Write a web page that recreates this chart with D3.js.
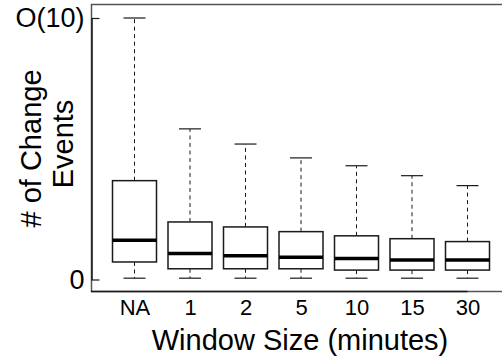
<!DOCTYPE html>
<html>
<head>
<meta charset="utf-8">
<script src="https://cdn.jsdelivr.net/npm/d3@7"></script>
<style>
  html, body { margin: 0; padding: 0; background: #fff; }
  svg { display: block; font-family: "Liberation Sans", Arial, Helvetica, sans-serif; }
</style>
</head>
<body>
<svg id="chart" width="502" height="360"></svg>
<script>
// Window sizes (minutes) shown along the x axis
const windows = ["NA", "1", "2", "5", "10", "15", "30"];

// Box-plot statistics per window size
const whiskerLow  = [0.05, 0.05, 0.05, 0.05, 0.05, 0.05, 0.05];
const quartile1   = [0.67, 0.41, 0.41, 0.41, 0.36, 0.36, 0.36];
const medians     = [1.50, 0.99, 0.91, 0.85, 0.80, 0.75, 0.75];
const quartile3   = [3.78, 2.20, 2.01, 1.83, 1.67, 1.56, 1.45];
const whiskerHigh = [10.0, 5.76, 5.18, 4.65, 4.35, 3.97, 3.59];

// y axis only marks the two ends of the scale
const yTickValues = [0, 10];
const yTickLabels = ["0", "O(10)"];

const boxes = windows.map((w, i) => ({
  w, lo: whiskerLow[i], q1: quartile1[i], med: medians[i], q3: quartile3[i], hi: whiskerHigh[i]
}));

const svg = d3.select("#chart");
const plot = { left: 91, top: 4, right: 502, bottom: 291 };

const x = d3.scalePoint().domain(windows).range([134.5, 467.5]);
const y = d3.scaleLinear().domain([0, 10]).range([279.5, 18]);

const boxW = 44, capW = 22;
const ink = "#1a1a1a";

// plot frame (open on the right)
svg.append("path")
  .attr("d", `M${plot.right},${plot.top + 0.5}H${plot.left + 0.5}V${plot.bottom + 0.5}H${plot.right}`)
  .attr("fill", "none").attr("stroke", "#555").attr("stroke-width", 1.5);

// y axis: inward ticks
const yAxis = svg.append("g")
  .attr("transform", `translate(${plot.left + 0.5},0)`)
  .call(d3.axisLeft(y).tickValues(yTickValues)
    .tickFormat((d, i) => yTickLabels[i])
    .tickSizeInner(-8).tickSizeOuter(0).tickPadding(7));
yAxis.select(".domain").attr("stroke", ink).attr("stroke-width", 1.5);
yAxis.selectAll(".tick line").attr("stroke", ink).attr("stroke-width", 1.2);
yAxis.selectAll(".tick text")
  .attr("font-size", 27).attr("fill", "#000")
  .attr("font-family", "Liberation Sans, Arial, sans-serif");

// x axis: category labels, no tick marks
const xAxis = svg.append("g")
  .attr("transform", `translate(0,${plot.bottom + 0.5})`)
  .call(d3.axisBottom(x).tickSize(0).tickPadding(0));
xAxis.select(".domain")
  .attr("d", `M${plot.left},0H${x(windows[windows.length - 1])}`)
  .attr("stroke", ink).attr("stroke-width", 1.5);
xAxis.selectAll(".tick text")
  .attr("y", 23.5).attr("dy", null)
  .attr("font-size", 22).attr("fill", "#000")
  .attr("font-family", "Liberation Sans, Arial, sans-serif");

// box plots
const g = svg.append("g").selectAll("g").data(boxes).join("g")
  .attr("transform", d => `translate(${x(d.w)},0)`);

// dashed whiskers
g.append("line")
  .attr("x1", 0).attr("x2", 0)
  .attr("y1", d => y(d.q3)).attr("y2", d => y(d.hi))
  .attr("stroke", ink).attr("stroke-width", 1).attr("stroke-dasharray", "4,3.5");
g.append("line")
  .attr("x1", 0).attr("x2", 0)
  .attr("y1", d => y(d.q1)).attr("y2", d => y(d.lo))
  .attr("stroke", ink).attr("stroke-width", 1).attr("stroke-dasharray", "4,3.5");

// whisker caps
g.append("line")
  .attr("x1", -capW / 2).attr("x2", capW / 2)
  .attr("y1", d => y(d.hi)).attr("y2", d => y(d.hi))
  .attr("stroke", ink).attr("stroke-width", 1.2);
g.append("line")
  .attr("x1", -capW / 2).attr("x2", capW / 2)
  .attr("y1", d => y(d.lo)).attr("y2", d => y(d.lo))
  .attr("stroke", ink).attr("stroke-width", 1.2);

// interquartile box
g.append("rect")
  .attr("x", -boxW / 2).attr("width", boxW)
  .attr("y", d => y(d.q3)).attr("height", d => y(d.q1) - y(d.q3))
  .attr("fill", "#fff").attr("stroke", ink).attr("stroke-width", 1.5);

// median
g.append("line")
  .attr("x1", -boxW / 2).attr("x2", boxW / 2)
  .attr("y1", d => y(d.med)).attr("y2", d => y(d.med))
  .attr("stroke", "#000").attr("stroke-width", 3.5);

// axis titles
svg.append("text")
  .attr("x", 300).attr("y", 350)
  .attr("text-anchor", "middle").attr("font-size", 29).attr("fill", "#000")
  .text("Window Size (minutes)");

svg.append("text")
  .attr("transform", "translate(41,148.5) rotate(-90)")
  .attr("text-anchor", "middle").attr("font-size", 29).attr("fill", "#000")
  .text("# of Change");
svg.append("text")
  .attr("transform", "translate(73,144) rotate(-90)")
  .attr("text-anchor", "middle").attr("font-size", 29).attr("fill", "#000")
  .text("Events");
</script>
</body>
</html>
